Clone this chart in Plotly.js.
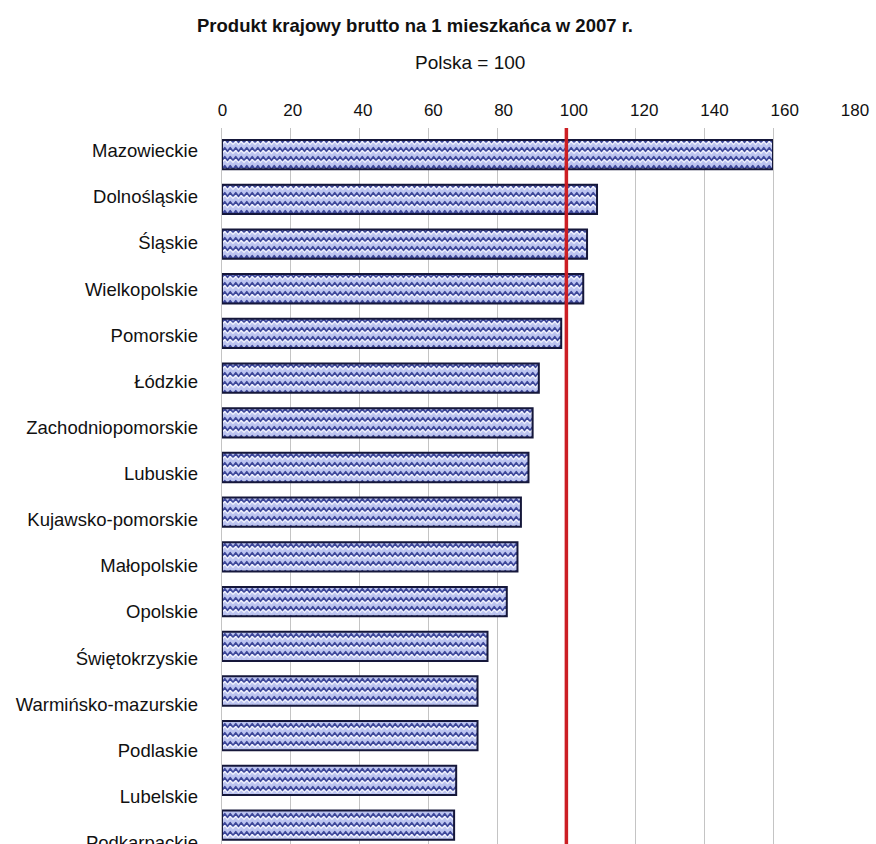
<!DOCTYPE html>
<html>
<head>
<meta charset="utf-8">
<script src="https://cdn.plot.ly/plotly-3.0.1.min.js"></script>
<style>
  html, body { margin: 0; padding: 0; background: #ffffff; }
  #chart { width: 876px; height: 844px; }
</style>
</head>
<body>
<div id="chart"></div>
<script>
// Regions ordered from highest to lowest GDP per capita (Poland = 100)
const regions = [
  'Mazowieckie', 'Dolnośląskie', 'Śląskie', 'Wielkopolskie', 'Pomorskie',
  'Łódzkie', 'Zachodniopomorskie', 'Lubuskie', 'Kujawsko-pomorskie',
  'Małopolskie', 'Opolskie', 'Świętokrzyskie', 'Warmińsko-mazurskie',
  'Podlaskie', 'Lubelskie', 'Podkarpackie'
];
const gdpIndex = [
  160.0, 108.9, 106.0, 104.9, 98.5,
  92.0, 90.2, 89.0, 86.8,
  85.8, 82.7, 77.1, 74.2,
  74.2, 68.0, 67.4
];
const nationalLevel = 100;
const scaleTicks = [0, 20, 40, 60, 80, 100, 120, 140, 160, 180];

const W = 876, H = 844;
const px = v => v / W;          // horizontal pixel -> paper fraction
const py = v => 1 - v / H;      // vertical pixel (from top) -> paper fraction

const BAR_BG = '#bcc4f0';
const WAVE = '#3d4799';

const bars = {
  type: 'bar',
  orientation: 'h',
  x: gdpIndex,
  y: regions,
  xaxis: 'x',
  yaxis: 'y',
  hoverinfo: 'skip',
  marker: {
    color: BAR_BG,
    line: { color: '#15173a', width: 2 },
    pattern: { shape: '-', bgcolor: BAR_BG, fgcolor: WAVE, size: 9, solidity: 0.2 }
  }
};

// carrier trace for the label axes (region names and scale numbers)
const labelCarrier = {
  type: 'scatter',
  mode: 'markers',
  x: gdpIndex,
  y: regions,
  xaxis: 'x2',
  yaxis: 'y2',
  hoverinfo: 'skip',
  marker: { opacity: 0, size: 1 },
  showlegend: false
};

const layout = {
  width: W,
  height: H,
  margin: { l: 0, r: 0, t: 0, b: 0 },
  paper_bgcolor: '#ffffff',
  plot_bgcolor: 'rgba(0,0,0,0)',
  showlegend: false,
  bargap: 0.344,
  title: {
    text: '<b>Produkt krajowy brutto na 1 mieszkańca w 2007 r.</b>',
    font: { family: 'Liberation Sans, Arial, sans-serif', size: 18.5, color: '#111111' },
    x: px(415), xanchor: 'center', xref: 'paper',
    y: py(26), yanchor: 'middle', yref: 'container'
  },
  annotations: [{
    text: 'Polska = 100',
    xref: 'paper', yref: 'paper',
    x: px(470), y: py(62), xanchor: 'center', yanchor: 'middle',
    showarrow: false,
    font: { family: 'Liberation Sans, Arial, sans-serif', size: 19, color: '#111111' }
  }],
  xaxis: {
    domain: [px(222), px(773)],
    range: [0, 160],
    dtick: 20,
    showticklabels: false,
    showgrid: true,
    gridcolor: '#c4c4c4',
    gridwidth: 1,
    zeroline: false,
    showline: false,
    fixedrange: true
  },
  yaxis: {
    domain: [0, py(128)],
    type: 'category',
    categoryorder: 'array',
    categoryarray: regions,
    range: [15.424, -0.597],
    showticklabels: false,
    showgrid: false,
    zeroline: false,
    showline: true,
    mirror: true,
    linecolor: '#c4c4c4',
    linewidth: 1,
    fixedrange: true
  },
  xaxis2: {
    domain: [px(222.5), px(855)],
    range: [0, 180],
    tickvals: scaleTicks,
    side: 'top',
    anchor: 'free',
    position: py(119),
    showgrid: false,
    zeroline: false,
    showline: false,
    ticks: '',
    tickfont: { family: 'Liberation Sans, Arial, sans-serif', size: 17, color: '#111111' },
    fixedrange: true
  },
  yaxis2: {
    domain: [0, py(127.6)],
    type: 'category',
    categoryorder: 'array',
    categoryarray: regions,
    range: [15.03, -0.5],
    anchor: 'free',
    position: px(198),
    showgrid: false,
    zeroline: false,
    showline: false,
    ticks: '',
    tickfont: { family: 'Liberation Sans, Arial, sans-serif', size: 18.5, color: '#111111' },
    fixedrange: true
  },
  shapes: [{
    type: 'line',
    xref: 'x', yref: 'y domain',
    x0: nationalLevel, x1: nationalLevel, y0: 0, y1: 1,
    line: { color: '#cc1f24', width: 3.5 },
    layer: 'above'
  }]
};

// swap the stock stripe fill for a wavy line texture
function applyWaveTexture(gd) {
  const NS = 'http://www.w3.org/2000/svg';
  const w = 11, h = 9;
  gd.querySelectorAll('pattern').forEach(p => {
    while (p.firstChild) p.removeChild(p.firstChild);
    p.setAttribute('patternUnits', 'userSpaceOnUse');
    p.setAttribute('width', String(w));
    p.setAttribute('height', String(h));
    p.removeAttribute('patternTransform');
    const bg = document.createElementNS(NS, 'rect');
    bg.setAttribute('x', '0'); bg.setAttribute('y', '0');
    bg.setAttribute('width', String(w)); bg.setAttribute('height', String(h));
    bg.setAttribute('fill', BAR_BG);
    p.appendChild(bg);
    const light = document.createElementNS(NS, 'path');
    light.setAttribute('d', 'M0,7.6 L2.75,4 L5.5,7.6 L8.25,4 L11,7.6');
    light.setAttribute('fill', 'none');
    light.setAttribute('stroke', '#eef0fc');
    light.setAttribute('stroke-width', '1.3');
    light.setAttribute('stroke-linejoin', 'round');
    p.appendChild(light);
    const wave = document.createElementNS(NS, 'path');
    wave.setAttribute('d', 'M0,5.3 L2.75,1.7 L5.5,5.3 L8.25,1.7 L11,5.3');
    wave.setAttribute('fill', 'none');
    wave.setAttribute('stroke', WAVE);
    wave.setAttribute('stroke-width', '1.7');
    wave.setAttribute('stroke-linejoin', 'round');
    p.appendChild(wave);
  });
}

const gd = document.getElementById('chart');
Plotly.newPlot(gd, [bars, labelCarrier], layout, { displayModeBar: false, staticPlot: true })
  .then(() => applyWaveTexture(gd));
</script>
</body>
</html>
